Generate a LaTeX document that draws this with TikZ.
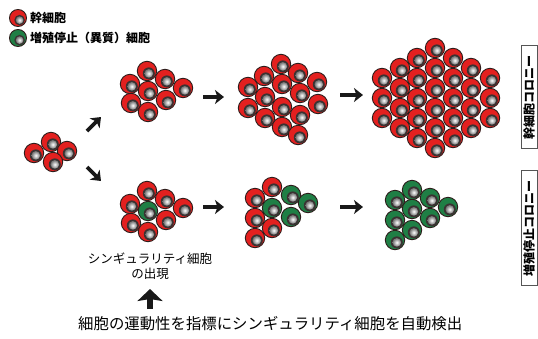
\documentclass[tikz,border=0pt]{standalone}
\usepackage{fontspec}
\newfontfamily\jp{Noto Sans CJK JP}
\usetikzlibrary{arrows.meta}
\definecolor{cellred}{HTML}{E3201F}
\definecolor{cellgreen}{HTML}{1F7F45}
\definecolor{celledge}{HTML}{2E1E1C}
\definecolor{nucleus}{HTML}{3A3232}
\definecolor{framegray}{HTML}{555555}

\tikzset{
  % one cell: coloured body, dark nucleus with a glossy centre
  pics/cell/.style={code={
    \filldraw[fill=#1, draw=celledge, line width=0.9pt] (0,0) circle (9.7);
    \fill[nucleus] (1.8,2.4) circle (6.0);
    \shade[inner color=white, outer color=black!55] (1.8,2.4) circle (4.3);
  }},
  flow/.style={line width=3.6pt, draw=black!90,
    -{Stealth[length=9pt,width=14pt,inset=2.5pt]}},
  bigflow/.style={line width=6.5pt, draw=black!90,
    -{Stealth[length=12pt,width=25pt,inset=2pt]}},
  legendtext/.style={anchor=west, inner sep=0pt,
    font=\jp\bfseries\fontsize{12}{14}\selectfont},
  note/.style={inner sep=0pt, align=center,
    font=\jp\fontsize{12.5}{15}\selectfont},
  caption/.style={anchor=west, inner sep=0pt,
    font=\jp\fontsize{15.4}{18}\selectfont},
  colony/.style={draw=framegray, line width=0.9pt, rotate=90, inner sep=0pt,
    minimum height=16pt, font=\jp\bfseries\fontsize{12}{14}\selectfont},
}

\begin{document}
\begin{tikzpicture}[x=1pt,y=-1pt]
\useasboundingbox (0,0) rectangle (538,338);

% legend
\pic[scale=0.88] at (18,18) {cell=cellred};
\node[legendtext] (legA) at (30,18) {幹細胞};
\pic[scale=0.88] at (18,38) {cell=cellgreen};
\node[legendtext] (legB) at (30,38) {増殖停止（異質）細胞};

% starting group
\foreach \p in {(34,153),(51,142),(67,151),(53,162)}
  \pic at \p {cell=cellred};

% upper row: stem-cell colony growing
\foreach \p in {(147,71),(130,84),(165,79),(183,88),(148,91),(131,103),
                (166,100),(148,112)}
  \pic at \p {cell=cellred};

\foreach \p in {(281,64),(264,76),(298,73),(248,87),(282,84),(317,82),
                (265,97),(300,93),(248,108),(282,107),(318,104),(265,118),
                (300,115),(282,127),(298,135)}
  \pic at \p {cell=cellred};

\foreach \x/\ys in {382/{78,98,118}, 400/{68,88,108,128},
                    417/{58,78,98,118,138}, 435/{48,68,88,108,128,148},
                    453/{58,78,98,118,138}, 471/{68,88,108,128},
                    490/{78,98,118}}
  \foreach \y in \ys
    \pic at (\x,\y) {cell=cellred};

% lower row: a singular cell appears and takes over
\foreach \p in {(147,191),(130,204),(165,199),(183,208),(131,223),
                (166,220),(148,232)}
  \pic at \p {cell=cellred};
\pic at (148,211) {cell=cellgreen};

\foreach \p in {(255,198),(272,187),(255,218),(272,228),(255,238)}
  \pic at \p {cell=cellred};
\foreach \p in {(272,208),(291,195),(308,203),(291,217)}
  \pic at \p {cell=cellgreen};

\foreach \p in {(395,200),(412,190),(412,209),(430,198),(448,207),
                (395,220),(430,218),(412,230),(395,240)}
  \pic at \p {cell=cellgreen};

% arrows
\coordinate (upS) at (87,131);   \coordinate (upE) at (101,117);
\coordinate (dnS) at (87,167);   \coordinate (dnE) at (101,181);
\coordinate (t1S) at (203,97);   \coordinate (t1E) at (224,97);
\coordinate (t2S) at (340,95);   \coordinate (t2E) at (363,95);
\coordinate (b1S) at (203,207);  \coordinate (b1E) at (224,207);
\coordinate (b2S) at (340,207);  \coordinate (b2E) at (363,207);
\coordinate (dtS) at (150,309);  \coordinate (dtE) at (150,289);
\draw[flow] (upS) -- (upE);
\draw[flow] (dnS) -- (dnE);
\draw[flow] (t1S) -- (t1E);
\draw[flow] (t2S) -- (t2E);
\draw[flow] (b1S) -- (b1E);
\draw[flow] (b2S) -- (b2E);
\draw[bigflow] (dtS) -- (dtE);

% labels
\node[note] (sing) at (150,266) {シンギュラリティ細胞\\の出現};
\node[caption] (cap) at (78,324) {細胞の運動性を指標にシンギュラリティ細胞を自動検出};

% colony tags on the right edge
\node[colony, minimum width=103pt] (tagA) at (529,97) {幹細胞コロニー};
\node[colony, minimum width=115pt] (tagB) at (529,228) {増殖停止コロニー};
\end{tikzpicture}
\end{document}
